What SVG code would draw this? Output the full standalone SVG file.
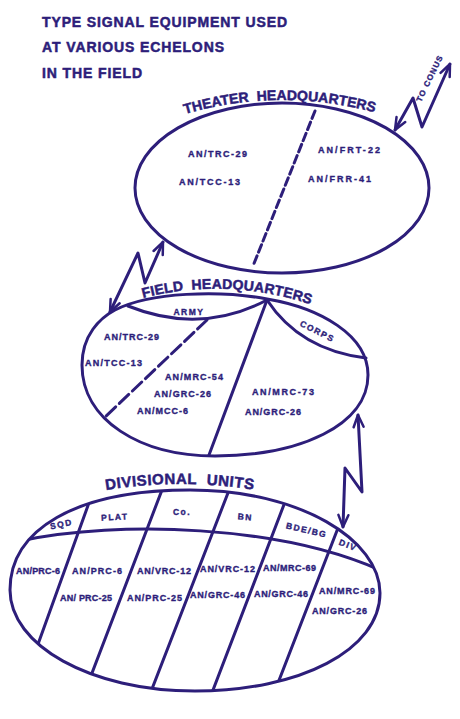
<svg xmlns="http://www.w3.org/2000/svg" width="460" height="719" viewBox="0 0 460 719">
<style>
.ink{stroke:#2d1e7a;fill:none;stroke-width:3;stroke-linecap:round;stroke-linejoin:round}
.t{font-family:"Liberation Sans",Arial,sans-serif;font-weight:bold;fill:#2d1e7a;stroke:#2d1e7a;stroke-width:0.35px}
.eq{font-size:9px}
.hd{font-size:14px;stroke-width:0.5px}
.lbl{font-size:8.5px;letter-spacing:1.5px}
.ttl{font-size:14px;stroke-width:0.5px}
</style>
<defs>
<marker id="ah" viewBox="0 0 14 12" refX="13" refY="6" markerWidth="14" markerHeight="12" markerUnits="userSpaceOnUse" orient="auto-start-reverse" overflow="visible">
<path d="M1,1 L13,6 L1,11" fill="none" stroke="#2d1e7a" stroke-width="2.5" stroke-linecap="round" stroke-linejoin="round"/>
</marker>
<path id="thArc" d="M 185 114 Q 282 86 380 114"/>
<path id="fhArc" d="M 143 298 Q 228 276 316 306"/>
<path id="duArc" d="M 106 490 Q 180 478 255 490"/>
<path id="divShape" d="M 10 590 C 10 530, 75 490, 190 490 C 300 490, 380 540, 380 593 C 380 650, 300 691, 195 691 C 90 691, 10 645, 10 590 Z"/>
<clipPath id="divClip"><use href="#divShape"/></clipPath>
</defs>
<rect width="460" height="719" fill="#ffffff"/>

<g id="title" class="t ttl">
<text x="42" y="27" textLength="245" lengthAdjust="spacing">TYPE SIGNAL EQUIPMENT USED</text>
<text x="42" y="52" textLength="182" lengthAdjust="spacing">AT VARIOUS ECHELONS</text>
<text x="42" y="78" textLength="100" lengthAdjust="spacing">IN THE FIELD</text>
</g>

<g id="theater-hq">
<ellipse class="ink" cx="282" cy="188" rx="147" ry="85"/>
<line class="ink" x1="315" y1="111" x2="253" y2="266" stroke-dasharray="8 4" stroke-linecap="butt"/>
<text class="t hd"><textPath href="#thArc" textLength="192" lengthAdjust="spacing">THEATER&#160;&#160;HEADQUARTERS</textPath></text>
<g class="t eq">
<text x="188" y="157" textLength="59">AN/TRC-29</text>
<text x="179" y="185" textLength="61">AN/TCC-13</text>
<text x="318" y="153" textLength="62">AN/FRT-22</text>
<text x="308" y="182" textLength="63">AN/FRR-41</text>
</g>
</g>

<g id="field-hq">
<path class="ink" d="M 82 365 C 82 335, 100 318, 115 310 C 150 292, 220 290, 267 299 C 320 308, 368 335, 368 375 C 368 425, 300 456, 215 456 C 140 456, 82 420, 82 365 Z"/>
<path class="ink" d="M 128 306 Q 200 335 267 300"/>
<path class="ink" d="M 267 300 Q 300 350 366 358"/>
<line class="ink" x1="267" y1="300" x2="209" y2="455"/>
<line class="ink" x1="207" y1="320" x2="105" y2="417" stroke-dasharray="13 5" stroke-linecap="butt"/>
<text class="t hd"><textPath href="#fhArc" textLength="170" lengthAdjust="spacing">FIELD&#160;&#160;HEADQUARTERS</textPath></text>
<text class="t lbl" x="189" y="314.5" text-anchor="middle">ARMY</text>
<text class="t lbl" x="316" y="334" text-anchor="middle" transform="rotate(27 316 334)">CORPS</text>
<g class="t eq">
<text x="104" y="340" textLength="55">AN/TRC-29</text>
<text x="85" y="366" textLength="57">AN/TCC-13</text>
<text x="165" y="380" textLength="58">AN/MRC-54</text>
<text x="154" y="397" textLength="57">AN/GRC-26</text>
<text x="137" y="414" textLength="51">AN/MCC-6</text>
<text x="252" y="395" textLength="62">AN/MRC-73</text>
<text x="245" y="415" textLength="56">AN/GRC-26</text>
</g>
</g>

<g id="divisional-units">
<use href="#divShape" class="ink"/>
<g clip-path="url(#divClip)">
<path class="ink" d="M 20 541 C 120 520, 280 525, 382 571"/>
<line class="ink" x1="97.2" y1="480" x2="17.9" y2="700"/>
<line class="ink" x1="165.8" y1="480" x2="81.7" y2="700"/>
<line class="ink" x1="233" y1="480" x2="147.7" y2="700"/>
<line class="ink" x1="293.4" y1="480" x2="209.2" y2="700"/>
<line class="ink" x1="356.6" y1="480" x2="271.4" y2="700"/>
</g>
<text class="t hd" style="font-size:15px"><textPath href="#duArc" textLength="148" lengthAdjust="spacing">DIVISIONAL&#160;&#160;UNITS</textPath></text>
<g class="t lbl">
<text x="62" y="527" text-anchor="middle" transform="rotate(-12 62 527)">SQD</text>
<text x="115" y="520" text-anchor="middle" transform="rotate(-3 115 520)">PLAT</text>
<text x="182" y="515" text-anchor="middle">Co.</text>
<text x="245" y="520" text-anchor="middle" transform="rotate(5 245 520)">BN</text>
<text x="306" y="533" text-anchor="middle" transform="rotate(13 306 533)">BDE/BG</text>
<text x="347" y="548" text-anchor="middle" transform="rotate(22 347 548)">DIV</text>
</g>
<g class="t eq">
<text x="16" y="574" textLength="44">AN/PRC-6</text>
<text x="72" y="574" textLength="50">AN/PRC-6</text>
<text x="60" y="601" textLength="52">AN/ PRC-25</text>
<text x="137" y="574" textLength="54">AN/VRC-12</text>
<text x="127" y="601" textLength="55">AN/PRC-25</text>
<text x="200" y="572" textLength="55">AN/VRC-12</text>
<text x="190" y="598" textLength="55">AN/GRC-46</text>
<text x="263" y="571" textLength="53">AN/MRC-69</text>
<text x="254" y="597" textLength="54">AN/GRC-46</text>
<text x="319" y="594" textLength="56">AN/MRC-69</text>
<text x="312" y="614" textLength="55">AN/GRC-26</text>
</g>
</g>

<g id="connectors">
<polyline class="ink" points="110,312 138,253 145,283 163,242" marker-start="url(#ah)" marker-end="url(#ah)"/>
<polyline class="ink" points="358,415 362,492 345,468 343,527" marker-start="url(#ah)" marker-end="url(#ah)"/>
<polyline class="ink" points="395,130 413,98 422,127 450,64" marker-start="url(#ah)" marker-end="url(#ah)"/>
<text class="t" style="font-size:8px" x="432" y="80" text-anchor="middle" textLength="50" lengthAdjust="spacing" transform="rotate(-64 432 80)">TO CONUS</text>
</g>
</svg>
